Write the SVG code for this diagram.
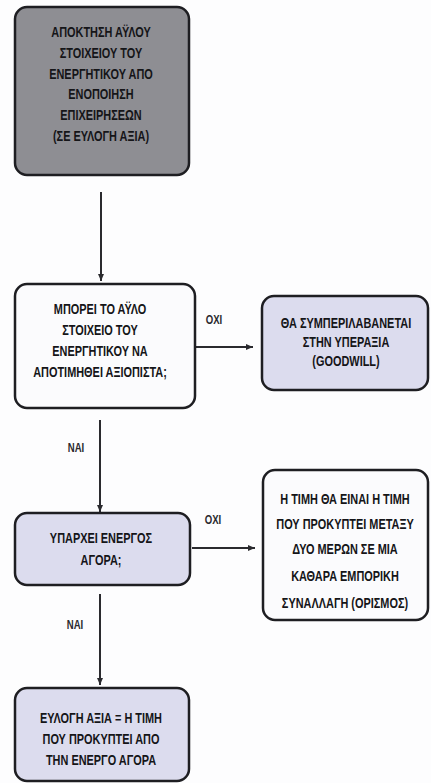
<svg xmlns="http://www.w3.org/2000/svg" width="431" height="783" viewBox="0 0 431 783">
<defs>
<style>
.box{stroke:#1e1e22;stroke-width:2.5}
.gray{fill:#8e8e93}
.lav{fill:#dcdcee}
.white{fill:#fbfbfd}
.t{font-family:"Liberation Sans",Arial,sans-serif;font-weight:bold;font-size:14px;fill:#151518;text-anchor:middle}
.lbl{font-family:"Liberation Sans",Arial,sans-serif;font-weight:bold;font-size:12px;fill:#2a2a2e;text-anchor:middle}
.c{stroke:#2a2a2e;stroke-width:2;fill:none}
</style>
<marker id="ah" markerWidth="8" markerHeight="8" refX="7" refY="4" orient="auto" markerUnits="userSpaceOnUse">
<path d="M0,1 L7,4 L0,7 Z" fill="#2a2a2e"/>
</marker>
</defs>
<rect width="431" height="783" fill="#fdfdfe"/>
<g id="connectors">
<line class="c" x1="101" y1="192" x2="101" y2="281" marker-end="url(#ah)"/>
<line class="c" x1="195" y1="347" x2="253" y2="347" marker-end="url(#ah)"/>
<line class="c" x1="100" y1="420" x2="100" y2="512" marker-end="url(#ah)"/>
<line class="c" x1="192" y1="548" x2="255" y2="548" marker-end="url(#ah)"/>
<line class="c" x1="100" y1="594" x2="100" y2="685" marker-end="url(#ah)"/>
<g transform="translate(214,0) scale(0.8,1)"><text class="lbl" x="0" y="324">ΟΧΙ</text></g>
<g transform="translate(76,0) scale(0.8,1)"><text class="lbl" x="0" y="452">ΝΑΙ</text></g>
<g transform="translate(213,0) scale(0.8,1)"><text class="lbl" x="0" y="524">ΟΧΙ</text></g>
<g transform="translate(75,0) scale(0.8,1)"><text class="lbl" x="0" y="629">ΝΑΙ</text></g>
</g>
<g id="n1">
<rect class="box gray" x="15" y="7" width="174" height="168" rx="12"/>
<g transform="translate(101,0) scale(0.78,1)">
<text class="t" x="0" y="37">ΑΠΟΚΤΗΣΗ ΑΫΛΟΥ</text>
<text class="t" x="0" y="58">ΣΤΟΙΧΕΙΟΥ ΤΟΥ</text>
<text class="t" x="0" y="79">ΕΝΕΡΓΗΤΙΚΟΥ ΑΠΟ</text>
<text class="t" x="0" y="99">ΕΝΟΠΟΙΗΣΗ</text>
<text class="t" x="0" y="120">ΕΠΙΧΕΙΡΗΣΕΩΝ</text>
<text class="t" x="0" y="141">(ΣΕ ΕΥΛΟΓΗ ΑΞΙΑ)</text>
</g>
</g>
<g id="n2">
<rect class="box white" x="15" y="284" width="180" height="124" rx="12"/>
<g transform="translate(100,0) scale(0.78,1)">
<text class="t" x="0" y="314">ΜΠΟΡΕΙ ΤΟ ΑΫΛΟ</text>
<text class="t" x="0" y="335">ΣΤΟΙΧΕΙΟ ΤΟΥ</text>
<text class="t" x="0" y="356">ΕΝΕΡΓΗΤΙΚΟΥ ΝΑ</text>
<text class="t" x="0" y="377">ΑΠΟΤΙΜΗΘΕΙ ΑΞΙΟΠΙΣΤΑ;</text>
</g>
</g>
<g id="n3">
<rect class="box lav" x="262" y="296" width="166" height="94" rx="12"/>
<g transform="translate(346,0) scale(0.78,1)">
<text class="t" x="0" y="328">ΘΑ ΣΥΜΠΕΡΙΛΑΒΑΝΕΤΑΙ</text>
<text class="t" x="0" y="347">ΣΤΗΝ ΥΠΕΡΑΞΙΑ</text>
<text class="t" x="0" y="366">(GOODWILL)</text>
</g>
</g>
<g id="n4">
<rect class="box lav" x="15" y="513" width="175" height="72" rx="12"/>
<g transform="translate(101,0) scale(0.78,1)">
<text class="t" x="0" y="543">ΥΠΑΡΧΕΙ ΕΝΕΡΓΟΣ</text>
<text class="t" x="0" y="565">ΑΓΟΡΑ;</text>
</g>
</g>
<g id="n5">
<rect class="box white" x="263" y="470" width="165" height="150" rx="12"/>
<g transform="translate(345,0) scale(0.78,1)">
<text class="t" x="0" y="504">Η ΤΙΜΗ ΘΑ ΕΙΝΑΙ Η ΤΙΜΗ</text>
<text class="t" x="0" y="529">ΠΟΥ ΠΡΟΚΥΠΤΕΙ ΜΕΤΑΞΥ</text>
<text class="t" x="0" y="554">ΔΥΟ ΜΕΡΩΝ ΣΕ ΜΙΑ</text>
<text class="t" x="0" y="581">ΚΑΘΑΡΑ ΕΜΠΟΡΙΚΗ</text>
<text class="t" x="0" y="608">ΣΥΝΑΛΛΑΓΗ (ΟΡΙΣΜΟΣ)</text>
</g>
</g>
<g id="n6">
<rect class="box lav" x="15" y="688" width="174" height="93" rx="12"/>
<g transform="translate(101,0) scale(0.78,1)">
<text class="t" x="0" y="723">ΕΥΛΟΓΗ ΑΞΙΑ = Η ΤΙΜΗ</text>
<text class="t" x="0" y="744">ΠΟΥ ΠΡΟΚΥΠΤΕΙ ΑΠΟ</text>
<text class="t" x="0" y="765">ΤΗΝ ΕΝΕΡΓΟ ΑΓΟΡΑ</text>
</g>
</g>
</svg>
